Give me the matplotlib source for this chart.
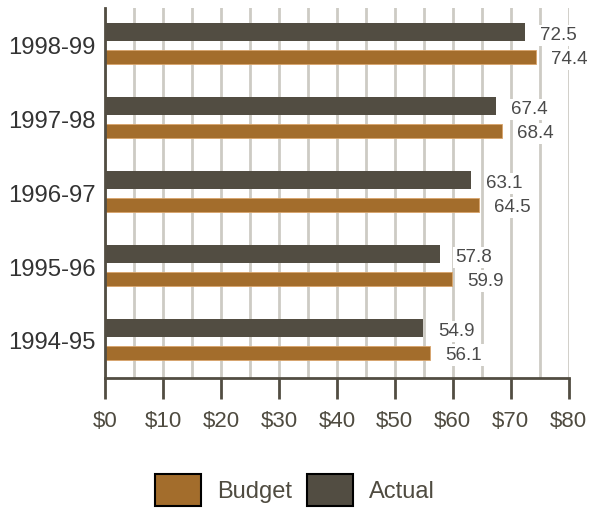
import numpy as np
import matplotlib.pyplot as plt
from matplotlib.patches import Patch

plt.rcParams['font.family'] = ['Liberation Sans', 'DejaVu Sans']

years = ['1994-95', '1995-96', '1996-97', '1997-98', '1998-99']
actual = [54.9, 57.8, 63.1, 67.4, 72.5]
budget = [56.1, 59.9, 64.5, 68.4, 74.4]

c_budget = '#a36d2c'
c_actual = '#524d42'
c_grid = '#cdcbc4'

fig = plt.figure(figsize=(5.9, 5.08), dpi=100)
ax = fig.add_axes([0.178, 0.256, 0.786, 0.728])

y = np.arange(len(years))
ax.barh(y + 0.176, actual, height=0.245, color=c_actual, zorder=2)
ax.barh(y - 0.165, budget, height=0.19, color=c_budget, zorder=2,
        edgecolor='#d9a46a', linewidth=0.6)

box = dict(facecolor='white', edgecolor='none', pad=1.5)
for i in range(len(years)):
    ax.text(actual[i] + 2.6, y[i] + 0.13, f'{actual[i]:.1f}', va='center', ha='left',
            fontsize=13.5, color='#4a4a4a', bbox=box, zorder=3)
    ax.text(budget[i] + 2.6, y[i] - 0.19, f'{budget[i]:.1f}', va='center', ha='left',
            fontsize=13.5, color='#4a4a4a', bbox=box, zorder=3)

ax.set_xlim(0, 80)
ax.set_ylim(-0.5, 4.5)
ax.set_xticks(np.arange(0, 81, 10))
ax.set_xticklabels([f'${v}' for v in range(0, 81, 10)], fontsize=16, color='#4f4b40')
ax.set_xticks(np.arange(5, 81, 5), minor=True)
ax.set_yticks(y)
ax.set_yticklabels(years, fontsize=17.2, color='#333333')

ax.grid(axis='x', which='both', color=c_grid, linewidth=2, zorder=0)
ax.set_axisbelow(True)
ax.tick_params(axis='y', length=0, pad=7)
ax.tick_params(axis='x', which='major', direction='out', length=15, width=2,
               color=c_actual, pad=9)
ax.tick_params(axis='x', which='minor', length=0)

for s in ['top', 'right']:
    ax.spines[s].set_visible(False)
for s in ['left', 'bottom']:
    ax.spines[s].set_color(c_actual)
    ax.spines[s].set_linewidth(2)

handles = [Patch(facecolor=c_budget, edgecolor='black', linewidth=1.5, label='Budget'),
           Patch(facecolor=c_actual, edgecolor='black', linewidth=1.5, label='Actual')]
leg = fig.legend(handles=handles, loc='center', bbox_to_anchor=(0.5, 0.035), ncol=2,
                 frameon=False, fontsize=17, handlelength=1.95, handleheight=1.7,
                 handletextpad=0.68, columnspacing=0.64)
for t in leg.get_texts():
    t.set_color('#4f4b40')

fig.savefig('out.png', dpi=100)
